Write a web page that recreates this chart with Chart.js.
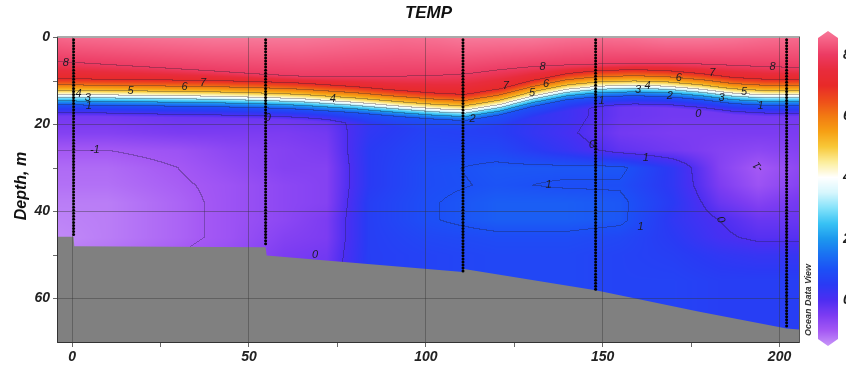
<!DOCTYPE html>
<html lang="en">
<head>
<meta charset="utf-8" />
<title>TEMP section</title>
<style>
  html, body { margin: 0; padding: 0; background: #fff; }
  #wrap { width: 846px; height: 365px; }
</style>
<script src="https://cdn.jsdelivr.net/npm/chart.js"></script>
</head>
<body>
<div id="wrap"><canvas id="sect" width="846" height="365"></canvas></div>
<script>
  const FONT = '"Liberation Sans", Arial, sans-serif';

  // axis ticks
  const xTicks = [0, 25, 50, 75, 100, 125, 150, 175, 200];
  const yTicks = [0, 10, 20, 30, 40, 50, 60, 70];
  const cbTicks = [8, 6, 4, 2, 0];

  // upper layer / thermocline, read per column along the section (km)
  const colDist   = [-4, 0, 20, 40, 55, 65, 80, 93, 103, 111, 121, 130, 140, 149, 159, 168, 178, 187, 196, 206];
  const iso8Depth = [5.6, 5.8, 6.8, 7.8, 8.6, 9.0, 9.0, 9.0, 8.8, 8.5, 7.5, 6.8, 6.4, 6.2, 6.0, 6.0, 6.2, 6.5, 6.8, 7.0];
  const iso4Depth = [13.2, 13.2, 13.4, 13.6, 13.9, 14.2, 15.0, 15.9, 16.5, 16.8, 15.5, 13.6, 12.0, 11.3, 11.1, 11.3, 12.0, 12.9, 13.3, 13.3];
  const surfTemp  = [8.55, 8.6, 8.7, 8.8, 8.8, 8.8, 8.7, 8.65, 8.7, 8.8, 8.8, 8.8, 8.7, 8.65, 8.7, 8.8, 8.8, 8.75, 8.65, 8.6];
  // thermocline shape: isotherm offsets (m) from the 4 degC isotherm
  const tcOffset = [-3.6, -2.2, -1.0, 0, 0.7, 1.5, 2.4];
  const tcTemp   = [7, 6, 5, 4, 3, 2, 1];

  // deep water below the thermocline
  const deepDist  = [-4, 10, 30, 45, 60, 72, 84, 100, 120, 140, 155, 170, 183, 194, 206];
  const deepDepth = [18, 22, 26, 30, 34, 38, 42, 46, 50, 56, 62, 70];
  const deepTemp = [
    [-0.4, -0.4, -0.3, -0.3, -0.3, -0.2, 0.3, 0.6, 0.6, 0.2, -0.3, -0.4, -0.4, -0.4, -0.4],
    [-0.6, -0.6, -0.5, -0.5, -0.5, -0.4, 0.4, 0.7, 0.6, 0.1, -0.4, -0.5, -0.5, -0.5, -0.5],
    [-1.0, -1.0, -0.9, -0.7, -0.6, -0.5, 0.5, 0.8, 0.8, 0.3, -0.2, -0.4, -0.6, -0.7, -0.6],
    [-1.15, -1.15, -1.0, -0.8, -0.6, -0.6, 0.5, 0.9, 1.1, 1.1, 1.1, 0.4, -0.6, -1.0, -0.7],
    [-1.2, -1.2, -1.05, -0.9, -0.7, -0.6, 0.5, 0.9, 1.05, 0.95, 0.95, 0.4, -0.5, -0.9, -0.6],
    [-1.3, -1.3, -1.1, -0.9, -0.7, -0.6, 0.6, 0.95, 1.2, 1.2, 1.1, 0.5, -0.3, -0.6, -0.4],
    [-1.35, -1.3, -1.1, -0.9, -0.7, -0.5, 0.6, 0.95, 1.2, 1.2, 1.1, 0.4, 0.0, -0.3, -0.3],
    [-1.4, -1.3, -1.1, -0.9, -0.6, -0.5, 0.6, 0.8, 0.9, 0.9, 0.8, 0.5, 0.1, -0.1, -0.1],
    [-1.3, -1.2, -1.0, -0.8, -0.5, -0.4, 0.6, 0.7, 0.8, 0.8, 0.7, 0.6, 0.4, 0.3, 0.3],
    [-1.2, -1.1, -0.9, -0.7, -0.4, -0.3, 0.6, 0.7, 0.8, 0.8, 0.7, 0.7, 0.6, 0.6, 0.6],
    [-1.2, -1.1, -0.9, -0.7, -0.4, -0.3, 0.6, 0.7, 0.8, 0.8, 0.7, 0.7, 0.6, 0.6, 0.6],
    [-1.2, -1.1, -0.9, -0.7, -0.4, -0.3, 0.6, 0.7, 0.8, 0.8, 0.7, 0.7, 0.6, 0.6, 0.6]
  ];

  // CTD stations
  const stationDist   = [0.4, 54.7, 110.5, 148, 202];
  const stationBottom = [45.8, 47.8, 53.7, 58.0, 66.9];
  const castDepths = [0.5, 1.2, 1.9, 2.6, 3.3, 4.0, 4.7, 5.4, 6.1, 6.8, 7.5, 8.2, 8.9, 9.6, 10.3, 11.0, 11.7, 12.4, 13.1, 13.8,
    14.5, 15.2, 15.9, 16.6, 17.3, 18.0, 18.7, 19.4, 20.1, 20.8, 21.5, 22.2, 22.9, 23.6, 24.3, 25.0, 25.7, 26.4, 27.1, 27.8,
    28.5, 29.2, 29.9, 30.6, 31.3, 32.0, 32.7, 33.4, 34.1, 34.8, 35.5, 36.2, 36.9, 37.6, 38.3, 39.0, 39.7, 40.4, 41.1, 41.8,
    42.5, 43.2, 43.9, 44.6, 45.3, 46.0, 46.7, 47.4, 48.1, 48.8, 49.5, 50.2, 50.9, 51.6, 52.3, 53.0, 53.7, 54.4, 55.1, 55.8,
    56.5, 57.2, 57.9, 58.6, 59.3, 60.0, 60.7, 61.4, 62.1, 62.8, 63.5, 64.2, 64.9, 65.6, 66.3];

  // sea floor
  const floorDist  = [-4, 0.4, 0.6, 54.7, 55.0, 110.5, 110.8, 148, 177, 202, 205.5];
  const floorDepth = [45.8, 45.8, 48.0, 48.2, 50.1, 53.9, 53.2, 58.1, 63.0, 66.9, 67.1];

  // contour labels
  const contourLabels = [
    { x: -1.8, d: 5.9, t: '8' }, { x: 1.8, d: 13.0, t: '4' }, { x: 4.4, d: 13.8, t: '3' }, { x: 4.7, d: 15.7, t: '1' },
    { x: 16.5, d: 12.3, t: '5' }, { x: 31.8, d: 11.3, t: '6' }, { x: 37, d: 10.4, t: '7' }, { x: 6.4, d: 25.8, t: '-1' },
    { x: 73.7, d: 14.1, t: '4' }, { x: 55.3, d: 18.5, t: '0' }, { x: 68.7, d: 49.9, t: '0' }, { x: 113.2, d: 18.7, t: '2' },
    { x: 122.6, d: 11.1, t: '7' }, { x: 130, d: 12.7, t: '5' }, { x: 134, d: 10.7, t: '6' }, { x: 133, d: 6.8, t: '8' },
    { x: 149.7, d: 14.6, t: '1' }, { x: 147, d: 24.7, t: '0' }, { x: 160, d: 12.0, t: '3' }, { x: 162.7, d: 11.1, t: '4' },
    { x: 169, d: 13.4, t: '2' }, { x: 171.5, d: 9.3, t: '6' }, { x: 181, d: 8.1, t: '7' }, { x: 177, d: 17.5, t: '0' },
    { x: 183.6, d: 13.9, t: '3' }, { x: 190, d: 12.5, t: '5' }, { x: 194.6, d: 15.7, t: '1' }, { x: 198, d: 6.8, t: '8' },
    { x: 194, d: 29.7, t: '-1', r: -2.2 }, { x: 162.2, d: 27.6, t: '1' }, { x: 134.7, d: 33.8, t: '1' },
    { x: 160.7, d: 43.5, t: '1' }, { x: 183.4, d: 41.9, t: '0', r: 1.2 }
  ];

  // ODV-like palette
  const cmapVals = [-1.5, -1.0, -0.5, 0.0, 0.5, 1.0, 1.5, 2.0, 2.5, 3.0, 3.5, 4.0, 4.5, 5.0, 5.5, 6.0, 6.5, 7.0, 7.5, 8.0, 8.5, 9.0];
  const cmapColors = ['#c896f8', '#a458f4', '#7c3cf2', '#4c2ef2', '#2a3af4', '#1c50f6', '#1a72f2', '#1c98ee', '#38c2f4', '#84e2fa',
    '#d6f6fd', '#ffffff', '#fcee9c', '#f8c838', '#f6a014', '#f27a12', '#ee4e1a', '#e82a28', '#e82c3c', '#ec3a62', '#f56286', '#f88aa8'];

  const cmapRgb = cmapColors.map(h => [parseInt(h.slice(1, 3), 16), parseInt(h.slice(3, 5), 16), parseInt(h.slice(5, 7), 16)]);
  function rgbFor(v) {
    if (v <= cmapVals[0]) return cmapRgb[0];
    const n = cmapVals.length - 1;
    if (v >= cmapVals[n]) return cmapRgb[n];
    let i = 1;
    while (cmapVals[i] < v) i++;
    const t = (v - cmapVals[i - 1]) / (cmapVals[i] - cmapVals[i - 1]);
    const a = cmapRgb[i - 1], b = cmapRgb[i];
    return [a[0] + t * (b[0] - a[0]), a[1] + t * (b[1] - a[1]), a[2] + t * (b[2] - a[2])];
  }

  function lerpArr(xs, ys, x) {
    if (x <= xs[0]) return ys[0];
    if (x >= xs[xs.length - 1]) return ys[ys.length - 1];
    let i = 1;
    while (xs[i] < x) i++;
    const t = (x - xs[i - 1]) / (xs[i] - xs[i - 1]);
    return ys[i - 1] + t * (ys[i] - ys[i - 1]);
  }

  function columnAt(x) {
    return {
      z4: lerpArr(colDist, iso4Depth, x),
      z8: lerpArr(colDist, iso8Depth, x),
      ts: lerpArr(colDist, surfTemp, x),
      deep: deepDepth.map((_, r) => lerpArr(deepDist, deepTemp[r], x))
    };
  }

  const BLEND = 2.5;
  function tempAt(c, d) {
    const z7 = c.z4 + tcOffset[0];
    if (d <= c.z8) return c.ts + (8 - c.ts) * d / c.z8;
    if (d <= z7) return 8 - (d - c.z8) / (z7 - c.z8);
    const z1 = c.z4 + tcOffset[tcOffset.length - 1];
    if (d <= z1) return lerpArr(tcOffset, tcTemp, d - c.z4);
    const dEnd = z1 + BLEND;
    if (d < dEnd) {
      const deepEnd = lerpArr(deepDepth, c.deep, dEnd);
      return 1 + (deepEnd - 1) * (d - z1) / BLEND;
    }
    return lerpArr(deepDepth, c.deep, d);
  }

  // temperature field + contour lines, painted under the grid
  const fieldPlugin = {
    id: 'field',
    beforeDraw(chart) {
      const a = chart.chartArea, xs = chart.scales.x, ys = chart.scales.y;
      const L = Math.round(a.left), T = Math.round(a.top);
      const W = Math.round(a.right) - L, H = Math.round(a.bottom) - T;
      if (!chart.$field || chart.$field.width !== W || chart.$field.height !== H) {
        const vals = new Float32Array(W * H);
        const depths = [];
        for (let j = 0; j < H; j++) depths.push(ys.getValueForPixel(T + j + 0.5));
        for (let i = 0; i < W; i++) {
          const col = columnAt(xs.getValueForPixel(L + i + 0.5));
          for (let j = 0; j < H; j++) vals[j * W + i] = tempAt(col, depths[j]);
        }
        const img = chart.ctx.createImageData(W, H);
        const px = img.data;
        for (let j = 0; j < H; j++) {
          for (let i = 0; i < W; i++) {
            const k = j * W + i;
            const c = rgbFor(vals[k]);
            const lv = Math.floor(vals[k]);
            const r = i + 1 < W ? Math.floor(vals[k + 1]) : lv;
            const b = j + 1 < H ? Math.floor(vals[k + W]) : lv;
            const f = (lv !== r || lv !== b) ? 0.68 : 1;
            px[k * 4] = c[0] * f + 30 * (1 - f);
            px[k * 4 + 1] = c[1] * f + 30 * (1 - f);
            px[k * 4 + 2] = c[2] * f + 50 * (1 - f);
            px[k * 4 + 3] = 255;
          }
        }
        chart.$field = img;
      }
      chart.ctx.putImageData(chart.$field, L, T);
    }
  };

  const decorPlugin = {
    id: 'decor',
    afterDatasetsDraw(chart) {
      const ctx = chart.ctx, xs = chart.scales.x, ys = chart.scales.y;
      ctx.save();
      ctx.fillStyle = '#1c1c24';
      ctx.font = 'italic 11px ' + FONT;
      ctx.textAlign = 'center';
      ctx.textBaseline = 'middle';
      contourLabels.forEach(l => {
        ctx.save();
        ctx.translate(xs.getPixelForValue(l.x), ys.getPixelForValue(l.d));
        if (l.r) ctx.rotate(l.r);
        ctx.fillText(l.t, 0, 0);
        ctx.restore();
      });
      ctx.restore();
    },
    afterDraw(chart) {
      const ctx = chart.ctx, a = chart.chartArea;
      ctx.save();
      // frame
      ctx.strokeStyle = '#555';
      ctx.lineWidth = 1;
      ctx.strokeRect(a.left - 0.5, a.top - 0.5, a.right - a.left + 1, a.bottom - a.top + 1);
      ctx.strokeStyle = '#333';
      ctx.beginPath();
      ctx.moveTo(a.left - 0.5, a.top); ctx.lineTo(a.left - 0.5, a.bottom + 0.5); ctx.lineTo(a.right, a.bottom + 0.5);
      ctx.stroke();

      // title
      ctx.fillStyle = '#111';
      ctx.font = 'italic bold 17px ' + FONT;
      ctx.textAlign = 'center';
      ctx.textBaseline = 'middle';
      ctx.fillText('TEMP', (a.left + a.right) / 2, 13);

      // y title
      ctx.save();
      ctx.translate(22, 186);
      ctx.rotate(-Math.PI / 2);
      ctx.font = 'italic bold 16px ' + FONT;
      ctx.fillText('Depth, m', 0, 0);
      ctx.restore();

      // ODV mark
      ctx.save();
      ctx.translate(809, 300);
      ctx.rotate(-Math.PI / 2);
      ctx.font = 'italic bold 9px ' + FONT;
      ctx.fillStyle = '#333';
      ctx.fillText('Ocean Data View', 0, 0);
      ctx.restore();

      // colour bar
      const cbX = 818, cbW = 20, cbTop = 38, cbBot = 339, tip = 7;
      const cbY = v => 300 - v * 30.625;
      ctx.save();
      ctx.beginPath();
      ctx.moveTo(cbX, cbTop);
      ctx.lineTo(cbX + cbW / 2, cbTop - tip);
      ctx.lineTo(cbX + cbW, cbTop);
      ctx.lineTo(cbX + cbW, cbBot);
      ctx.lineTo(cbX + cbW / 2, cbBot + tip);
      ctx.lineTo(cbX, cbBot);
      ctx.closePath();
      ctx.clip();
      for (let y = cbTop - tip; y < cbBot + tip; y++) {
        const c = rgbFor((300 - (y + 0.5)) / 30.625);
        ctx.fillStyle = 'rgb(' + c.map(Math.round).join(',') + ')';
        ctx.fillRect(cbX, y, cbW, 1);
      }
      ctx.restore();
      ctx.fillStyle = '#222';
      ctx.font = 'italic bold 14px ' + FONT;
      ctx.textAlign = 'left';
      cbTicks.forEach(v => ctx.fillText(String(v), 843, cbY(v)));
      ctx.restore();
    }
  };

  const stationPts = [];
  stationDist.forEach((sx, i) => castDepths.forEach(d => {
    if (d <= stationBottom[i]) stationPts.push({ x: sx, y: d });
  }));

  const tickFont = { family: FONT, size: 14, weight: 'bold', style: 'italic' };

  const sectChart = new Chart(document.getElementById('sect'), {
    type: 'scatter',
    data: {
      datasets: [
        {
          label: 'stations',
          data: stationPts,
          pointRadius: 1.5,
          pointBackgroundColor: '#000',
          pointBorderWidth: 0,
          order: 0
        },
        {
          type: 'line',
          label: 'bottom',
          data: floorDist.map((x, i) => ({ x: x, y: floorDepth[i] })),
          borderWidth: 0,
          borderColor: '#808080',
          backgroundColor: '#808080',
          fill: { value: 70 },
          pointRadius: 0,
          tension: 0,
          order: 1
        }
      ]
    },
    options: {
      responsive: false,
      animation: false,
      layout: { padding: { top: 37.5, right: 47, left: 0, bottom: 0 } },
      plugins: { legend: { display: false }, tooltip: { enabled: false }, title: { display: false } },
      scales: {
        x: {
          type: 'linear', min: -4, max: 205.5,
          afterBuildTicks: s => { s.ticks = xTicks.map(v => ({ value: v })); },
          afterFit: s => { s.height = 23; },
          ticks: { callback: v => (v % 50 === 0 ? v : ''), font: tickFont, color: '#222', padding: 2, maxRotation: 0, autoSkip: false },
          grid: {
            z: 1, lineWidth: 0.8, tickLength: 5,
            color: c => (c.tick && c.tick.value % 50 === 0 ? 'rgba(50,50,50,0.5)' : 'rgba(0,0,0,0)'),
            tickColor: '#444'
          },
          border: { display: false }
        },
        y: {
          type: 'linear', reverse: true, min: 0, max: 70,
          afterBuildTicks: s => { s.ticks = yTicks.map(v => ({ value: v })); },
          afterFit: s => { s.width = 58; },
          ticks: { callback: v => (v % 20 === 0 ? v : ''), font: tickFont, color: '#222', padding: 3, autoSkip: false },
          grid: {
            z: 1, lineWidth: 0.8, tickLength: 5,
            color: c => (c.tick && c.tick.value % 20 === 0 && c.tick.value > 0 ? 'rgba(50,50,50,0.5)' : 'rgba(0,0,0,0)'),
            tickColor: c => (c.tick && c.tick.value === 70 ? 'rgba(0,0,0,0)' : '#444')
          },
          border: { display: false }
        }
      }
    },
    plugins: [fieldPlugin, decorPlugin]
  });
</script>
</body>
</html>
